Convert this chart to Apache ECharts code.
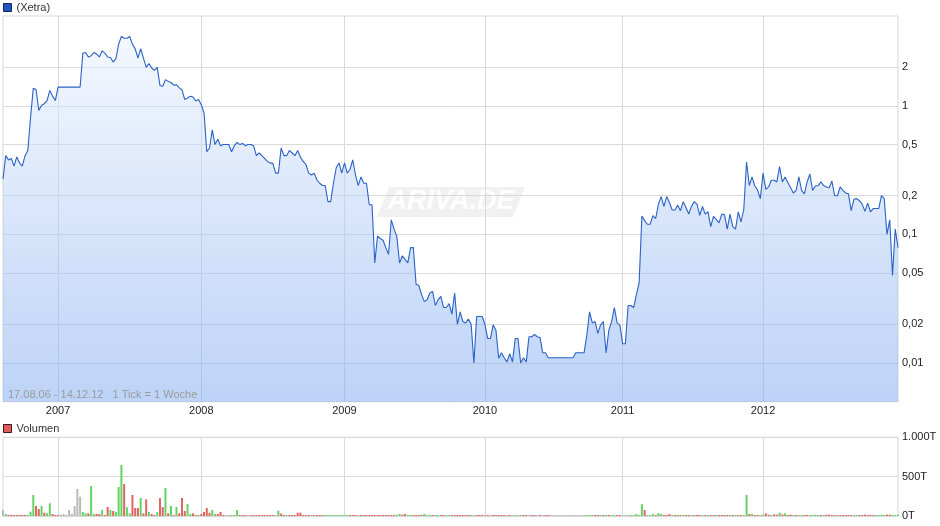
<!DOCTYPE html>
<html>
<head>
<meta charset="utf-8">
<script src="https://cdn.jsdelivr.net/npm/echarts@6/dist/echarts.min.js"></script>
<style>
html,body{margin:0;padding:0;background:#fff;}
#chart{width:940px;height:526px;}
</style>
</head>
<body>
<div id="chart"></div>
<script>
// ---- data (weekly, 17.08.06 - 14.12.12) ----
const priceValues = [
  0.27,0.41,0.38,0.39,0.34,0.40,0.36,0.34,0.41,0.45,
  0.81,1.37,1.34,0.92,1.01,1.04,1.10,1.32,1.19,1.10,
  1.40,1.40,1.40,1.40,1.40,1.40,1.40,1.40,1.40,2.57,
  2.60,2.40,2.45,2.60,2.53,2.40,2.68,2.57,2.40,2.38,
  2.19,2.33,3.02,3.46,3.36,3.36,3.46,3.02,2.78,2.35,
  2.78,2.35,1.99,2.13,1.97,1.89,1.99,1.44,1.42,1.60,
  1.55,1.52,1.45,1.46,1.38,1.33,1.12,1.15,1.19,1.17,
  1.09,1.12,1.02,0.88,0.44,0.47,0.65,0.50,0.55,0.49,
  0.50,0.50,0.50,0.44,0.49,0.52,0.50,0.51,0.49,0.50,
  0.50,0.49,0.41,0.43,0.41,0.39,0.37,0.36,0.357,0.30,
  0.30,0.47,0.41,0.41,0.45,0.43,0.41,0.45,0.40,0.37,
  0.35,0.30,0.29,0.30,0.265,0.25,0.24,0.24,0.18,0.18,
  0.25,0.33,0.36,0.30,0.36,0.30,0.32,0.38,0.29,0.24,
  0.28,0.25,0.25,0.17,0.17,0.06,0.097,0.093,0.09,0.079,
  0.07,0.13,0.11,0.097,0.06,0.068,0.064,0.06,0.079,0.079,
  0.041,0.04,0.034,0.030,0.031,0.035,0.036,0.028,0.031,0.033,
  0.027,0.027,0.029,0.024,0.035,0.02,0.025,0.021,0.0205,0.022,
  0.02,0.01,0.023,0.023,0.023,0.02,0.0155,0.0155,0.0198,0.018,
  0.0109,0.012,0.011,0.0102,0.0118,0.0102,0.0155,0.0155,0.01,0.011,
  0.0102,0.016,0.016,0.0167,0.016,0.0158,0.012,0.012,0.011,0.011,
  0.011,0.011,0.011,0.011,0.011,0.011,0.011,0.011,0.012,0.012,
  0.012,0.012,0.0164,0.025,0.0205,0.021,0.017,0.0198,0.021,0.012,
  0.018,0.021,0.027,0.0205,0.0198,0.0141,0.0141,0.028,0.028,0.027,
  0.034,0.042,0.139,0.128,0.12,0.12,0.14,0.133,0.172,0.197,
  0.165,0.197,0.177,0.155,0.155,0.169,0.153,0.18,0.162,0.144,
  0.165,0.18,0.172,0.141,0.165,0.144,0.15,0.115,0.138,0.131,
  0.123,0.144,0.142,0.11,0.144,0.115,0.11,0.15,0.125,0.157,
  0.366,0.24,0.28,0.238,0.222,0.19,0.30,0.224,0.234,0.264,
  0.264,0.256,0.337,0.256,0.28,0.253,0.231,0.21,0.22,0.28,
  0.22,0.207,0.256,0.295,0.22,0.238,0.24,0.256,0.24,0.234,
  0.231,0.26,0.2,0.2,0.234,0.22,0.21,0.207,0.153,0.188,
  0.19,0.183,0.172,0.151,0.175,0.15,0.159,0.159,0.159,0.2,
  0.19,0.1,0.13,0.048,0.11,0.079
];

// volume in thousands (T)
const volumeValues = [
  76,25,8,15,8,8,8,8,8,8,
  55,267,127,89,127,42,34,161,25,13,
  13,17,25,13,76,25,127,343,246,51,
  34,34,381,25,25,25,76,13,114,76,
  64,51,369,648,407,110,34,267,102,102,
  229,34,212,51,25,13,51,229,114,356,
  34,127,13,114,34,229,64,153,25,34,
  13,13,25,51,102,42,76,25,25,51,
  13,8,13,8,8,76,13,13,8,13,
  13,13,13,13,8,13,8,8,8,13,
  67,30,8,13,13,13,13,42,42,8,
  13,13,8,13,8,8,8,8,8,8,
  8,8,8,13,8,8,8,8,8,13,
  8,8,8,8,13,13,13,8,8,8,
  8,8,13,17,25,17,25,8,8,8,
  13,8,8,25,13,8,8,8,8,8,
  8,13,8,8,8,8,8,8,8,8,
  13,8,8,8,8,8,8,8,13,8,
  8,8,8,8,8,8,8,8,8,8,
  8,8,8,8,8,8,8,8,8,8,
  8,8,8,8,8,8,8,8,8,8,
  8,8,8,13,8,8,13,8,8,8,
  8,8,8,8,8,8,8,8,8,8,
  25,13,152,76,13,13,25,8,38,25,
  13,13,25,8,8,17,8,13,8,8,
  13,8,13,8,8,8,8,8,8,8,
  8,8,8,13,8,8,8,8,8,13,
  267,25,25,13,8,13,17,34,17,13,
  21,17,42,21,34,13,17,8,8,13,
  8,8,8,13,8,17,8,8,8,17,
  17,8,8,8,8,8,8,8,8,8,
  8,8,8,17,8,8,8,8,8,17,
  8,17,17,8,8,17
];

// weekly direction: g = up, r = down, n = unchanged
const volumeDirs = (
  "ngrrrrrrrg" + "ggrrgrggrr" + "rnnnnnnnng" + "grggrrgrrg" +
  "rgggrggrrr" + "grrgrrgrrg" + "rgrgrrrggr" + "rgrrrrggrr" +
  "rnngggrrrn" + "rrrrrrrrrn" + "grrgrrrrrr" + "rrgrrrrggg" +
  "ggggggrrrg" + "rrrrrrrrrr" + "rrrggrrggr" + "rrrgggrggr" +
  "rggrrrrrrr" + "gnrrrnrnrr" + "rrrnrngngr" + "rnrrnrnrrn" +
  "nnnnnnnnnn" + "nngggrrgrg" + "rggrrnnngg" + "gggrgggrgg" +
  "rrrgrgrgrr" + "grrrgrgrrg" + "rrrrgrgrrg" + "grgrrggrrg" +
  "rrgrgrrgrg" + "grrggggrgr" + "rrrgrrrrrg" + "grrrrrrggg" +
  "grrggg"
).split('');

const yearStartIdx = [20, 72, 124, 175, 225, 276];
const yearLabels = ['2007', '2008', '2009', '2010', '2011', '2012'];
const priceTicks = [0.01, 0.02, 0.05, 0.1, 0.2, 0.5, 1, 2];
const priceRange = [0.005, 5];
const volumeTicks = [0, 500, 1000];

// ---- chart ----
const FONT = '"Liberation Sans", Arial, sans-serif';
const weeks = priceValues.map((_, i) => String(i));
const isYearStart = (i) => yearStartIdx.indexOf(i) >= 0;
const dirColor = { g: '#62d462', r: '#e06464', n: '#b9b9b9' };

const chart = echarts.init(document.getElementById('chart'), null, { renderer: 'canvas' });

const xCommon = {
  type: 'category',
  data: weeks,
  boundaryGap: false,
  axisLine: { show: false },
  axisTick: { show: false },
  splitLine: { show: true, interval: (i) => isYearStart(i), lineStyle: { color: '#dadada', width: 1 } }
};

const option = {
  animation: false,
  backgroundColor: '#ffffff',
  textStyle: { fontFamily: FONT },
  legend: [
    {
      data: ['(Xetra)'], left: 3, top: 2, padding: 0,
      icon: 'rect', itemWidth: 8, itemHeight: 8, selectedMode: false,
      itemStyle: { color: '#1d57bf', borderColor: '#1a2a55', borderWidth: 1 },
      textStyle: { fontSize: 11, color: '#333', fontFamily: FONT }
    },
    {
      data: ['Volumen'], left: 3, top: 423, padding: 0,
      icon: 'rect', itemWidth: 8, itemHeight: 8, selectedMode: false,
      itemStyle: { color: '#e05c5c', borderColor: '#3a1a1a', borderWidth: 1 },
      textStyle: { fontSize: 11, color: '#333', fontFamily: FONT }
    }
  ],
  grid: [
    { left: 3, right: 42, top: 16, height: 385.7, show: true, borderColor: '#d6d6d6', borderWidth: 1, backgroundColor: 'transparent' },
    { left: 3, right: 42, top: 437.3, height: 78.7, show: true, borderColor: '#d6d6d6', borderWidth: 1, backgroundColor: 'transparent' }
  ],
  xAxis: [
    Object.assign({}, xCommon, {
      gridIndex: 0,
      axisLabel: {
        show: true, interval: (i) => isYearStart(i), margin: 4,
        fontSize: 11, color: '#222', fontFamily: FONT,
        formatter: (v) => yearLabels[yearStartIdx.indexOf(Number(v))] || ''
      }
    }),
    Object.assign({}, xCommon, { gridIndex: 1, axisLabel: { show: false } })
  ],
  yAxis: [
    {
      type: 'value', gridIndex: 0, position: 'right',
      min: Math.log10(priceRange[0]), max: Math.log10(priceRange[1]),
      axisLine: { show: false },
      axisTick: { show: false, customValues: priceTicks.map(v => Math.log10(v)) },
      axisLabel: {
        customValues: priceTicks.map(v => Math.log10(v)),
        margin: 4, fontSize: 11, color: '#222', fontFamily: FONT, align: 'left',
        formatter: (v) => String(+Math.pow(10, v).toPrecision(1)).replace('.', ',')
      },
      splitLine: { show: true, lineStyle: { color: '#dadada', width: 1 } }
    },
    {
      type: 'value', gridIndex: 1, position: 'right',
      min: volumeTicks[0], max: volumeTicks[volumeTicks.length - 1], interval: 500,
      axisLine: { show: false },
      axisTick: { show: false },
      axisLabel: {
        margin: 4, fontSize: 11, color: '#222', fontFamily: FONT, align: 'left',
        formatter: (v) => (v >= 1000 ? Math.floor(v / 1000) + '.' + String(v % 1000).padStart(3, '0') : String(v)) + 'T'
      },
      splitLine: { show: true, lineStyle: { color: '#dadada', width: 1 } }
    }
  ],
  graphic: [
    {
      type: 'group', left: 377, top: 187, silent: true, z: 1,
      children: [
        { type: 'polygon', shape: { points: [[12, 0], [148, 0], [136, 30], [0, 30]] },
          style: { fill: 'rgba(0,0,0,0.055)' } },
        { type: 'text', x: 74, y: 15,
          style: { text: 'ARIVA.DE', align: 'center', verticalAlign: 'middle',
                   font: 'italic bold 27px ' + FONT, fill: 'rgba(255,255,255,0.92)' } }
      ]
    },
    {
      type: 'text', left: 8, top: 389, silent: true, z: 10,
      style: { text: '17.08.06 - 14.12.12   1 Tick = 1 Woche', font: '11px ' + FONT, fill: '#9a9a9a' }
    }
  ],
  series: [
    {
      name: '(Xetra)', type: 'line', xAxisIndex: 0, yAxisIndex: 0,
      data: priceValues.map(v => Math.log10(v)),
      symbol: 'none', showSymbol: false, smooth: false,
      itemStyle: { color: '#1d57bf' },
      lineStyle: { color: '#2a62c6', width: 1.1 },
      areaStyle: {
        origin: 'start',
        opacity: 1,
        color: new echarts.graphic.LinearGradient(0, 0, 0, 1, [
          { offset: 0, color: 'rgba(232,240,253,0.5)' },
          { offset: 1, color: 'rgba(123,167,239,0.5)' }
        ])
      },
      z: 2
    },
    {
      name: 'Volumen', type: 'bar', xAxisIndex: 1, yAxisIndex: 1,
      data: volumeValues.map((v, i) => ({ value: v, itemStyle: { color: dirColor[volumeDirs[i]] || '#b9b9b9' } })),
      barWidth: 2, barMinHeight: 1,
      itemStyle: { color: '#e05c5c' }
    }
  ]
};

chart.setOption(option);
</script>
</body>
</html>
